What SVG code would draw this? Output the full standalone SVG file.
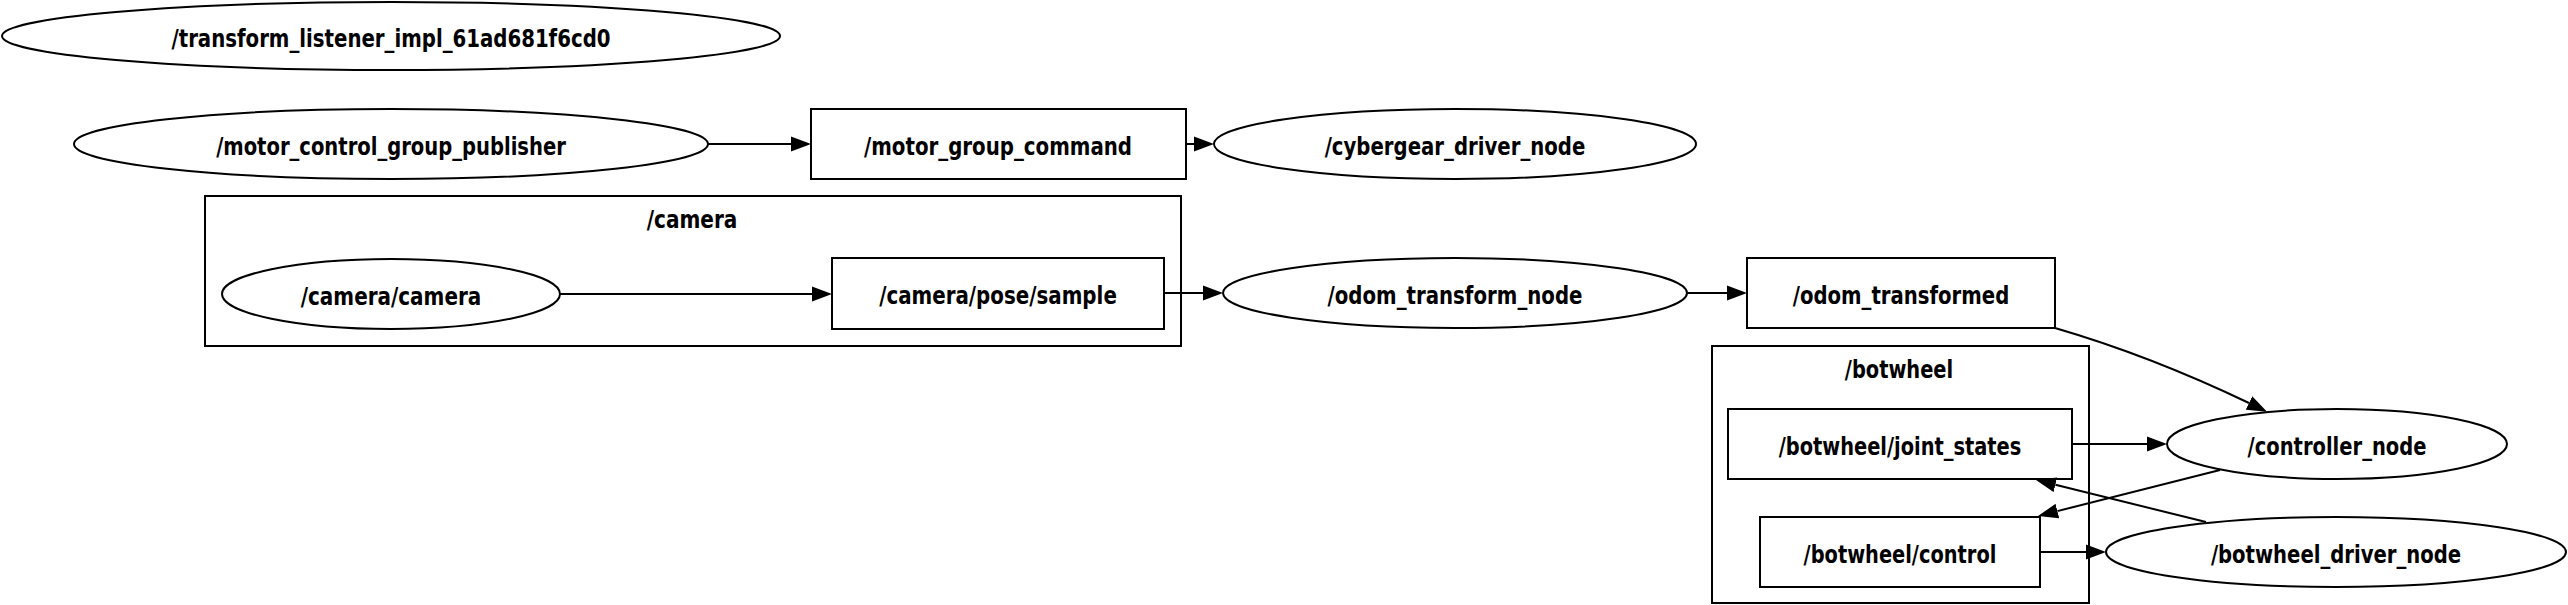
<svg xmlns="http://www.w3.org/2000/svg" width="2568" height="605" viewBox="0 0 2568 605">
<style>
  .shape { fill: none; stroke: #000; stroke-width: 2; }
  .edge { fill: none; stroke: #000; stroke-width: 2; }
  text { font-family: "DejaVu Sans", "Liberation Sans", sans-serif; fill: #000; text-anchor: middle; }
  .lbl { font-size: 25.5px; font-weight: bold; }
</style>
<defs>
  <marker id="arrow" markerUnits="userSpaceOnUse" markerWidth="21" markerHeight="16" refX="0" refY="8" orient="auto">
    <path d="M0,0.5 L20,8 L0,15.5 z" fill="#000"/>
  </marker>
</defs>
<rect width="2568" height="605" fill="#fff"/>

<g id="cluster_camera">
  <rect class="shape" x="205" y="196" width="976" height="150"/>
  <text class="lbl" x="692" y="228" textLength="90.6" lengthAdjust="spacingAndGlyphs">/camera</text>
</g>
<g id="cluster_botwheel">
  <rect class="shape" x="1712" y="346" width="377" height="257"/>
  <text class="lbl" x="1899" y="378" textLength="108.4" lengthAdjust="spacingAndGlyphs">/botwheel</text>
</g>

<g id="n_transform_listener">
  <ellipse class="shape" cx="391" cy="36" rx="389" ry="34"/>
  <text class="lbl" x="391" y="46.5" textLength="439" lengthAdjust="spacingAndGlyphs">/transform_listener_impl_61ad681f6cd0</text>
</g>
<g id="n_motor_control_group_publisher">
  <ellipse class="shape" cx="391" cy="144" rx="317" ry="35"/>
  <text class="lbl" x="391" y="154.5" textLength="349.7" lengthAdjust="spacingAndGlyphs">/motor_control_group_publisher</text>
</g>
<g id="n_motor_group_command">
  <rect class="shape" x="811" y="109" width="375" height="70"/>
  <text class="lbl" x="998" y="154.5" textLength="268" lengthAdjust="spacingAndGlyphs">/motor_group_command</text>
</g>
<g id="n_cybergear_driver_node">
  <ellipse class="shape" cx="1455" cy="144" rx="241" ry="35"/>
  <text class="lbl" x="1455" y="154.5" textLength="260.7" lengthAdjust="spacingAndGlyphs">/cybergear_driver_node</text>
</g>
<g id="n_camera_camera">
  <ellipse class="shape" cx="391" cy="294" rx="169" ry="35"/>
  <text class="lbl" x="391" y="304.5" textLength="180.5" lengthAdjust="spacingAndGlyphs">/camera/camera</text>
</g>
<g id="n_camera_pose_sample">
  <rect class="shape" x="832" y="258" width="332" height="71"/>
  <text class="lbl" x="998" y="304" textLength="237.7" lengthAdjust="spacingAndGlyphs">/camera/pose/sample</text>
</g>
<g id="n_odom_transform_node">
  <ellipse class="shape" cx="1455" cy="293" rx="232" ry="35"/>
  <text class="lbl" x="1455" y="303.5" textLength="254.9" lengthAdjust="spacingAndGlyphs">/odom_transform_node</text>
</g>
<g id="n_odom_transformed">
  <rect class="shape" x="1747" y="258" width="308" height="70"/>
  <text class="lbl" x="1901" y="303.5" textLength="216.5" lengthAdjust="spacingAndGlyphs">/odom_transformed</text>
</g>
<g id="n_botwheel_joint_states">
  <rect class="shape" x="1728" y="409" width="344" height="70"/>
  <text class="lbl" x="1900" y="454.5" textLength="242.5" lengthAdjust="spacingAndGlyphs">/botwheel/joint_states</text>
</g>
<g id="n_botwheel_control">
  <rect class="shape" x="1760" y="517" width="280" height="70"/>
  <text class="lbl" x="1900" y="562.5" textLength="192.8" lengthAdjust="spacingAndGlyphs">/botwheel/control</text>
</g>
<g id="n_controller_node">
  <ellipse class="shape" cx="2337" cy="444" rx="170" ry="35"/>
  <text class="lbl" x="2337" y="454.5" textLength="178.8" lengthAdjust="spacingAndGlyphs">/controller_node</text>
</g>
<g id="n_botwheel_driver_node">
  <ellipse class="shape" cx="2336" cy="552" rx="230" ry="35"/>
  <text class="lbl" x="2336" y="562.5" textLength="250.2" lengthAdjust="spacingAndGlyphs">/botwheel_driver_node</text>
</g>

<g id="connectors">
  <path class="edge" d="M708,144 L791,144" marker-end="url(#arrow)"/>
  <path class="edge" d="M1187,144 L1194,144" marker-end="url(#arrow)"/>
  <path class="edge" d="M560,294 L812,294" marker-end="url(#arrow)"/>
  <path class="edge" d="M1164,293 L1203,293" marker-end="url(#arrow)"/>
  <path class="edge" d="M1687,293 L1727,293" marker-end="url(#arrow)"/>
  <path class="edge" d="M2055,328 C2110,344 2180,370 2249,403" marker-end="url(#arrow)"/>
  <path class="edge" d="M2072,444 L2147,444" marker-end="url(#arrow)"/>
  <path class="edge" d="M2040,552 L2086,552" marker-end="url(#arrow)"/>
  <path class="edge" d="M2220,470 L2057.4,511.1" marker-end="url(#arrow)"/>
  <path class="edge" d="M2206,522 L2055.4,484.8" marker-end="url(#arrow)"/>
</g>
</svg>
